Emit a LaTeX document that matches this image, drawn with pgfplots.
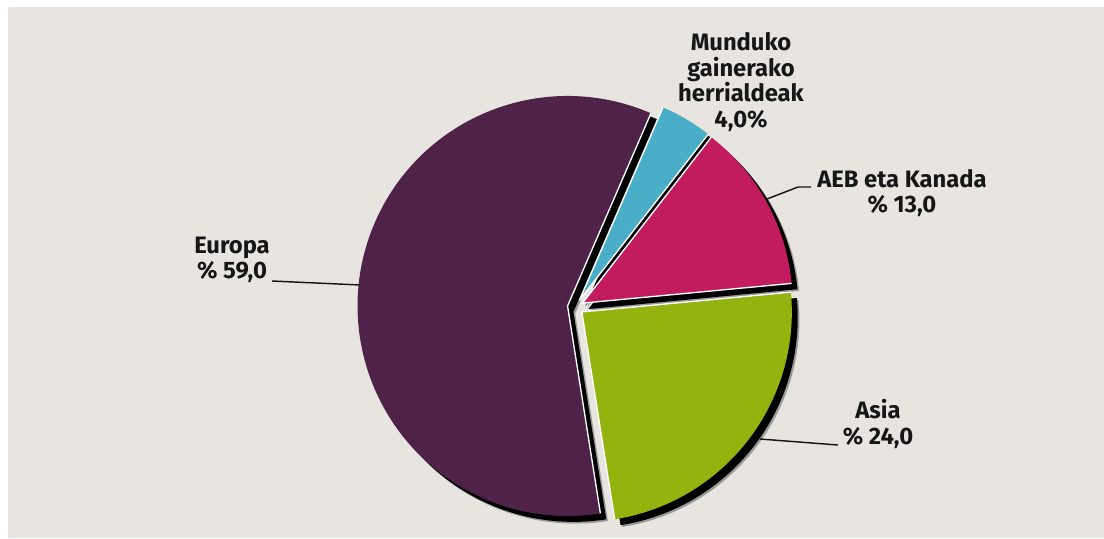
\documentclass[border=0pt]{standalone}
\usepackage{pgfplots}
\pgfplotsset{compat=1.18}
\usepackage{fontspec}
\setmainfont{Fira Sans}
\usetikzlibrary{calc}
\definecolor{bg}{RGB}{232,229,224}
\definecolor{europa}{RGB}{78,34,73}
\definecolor{asia}{RGB}{147,179,15}
\definecolor{aeb}{RGB}{194,28,94}
\definecolor{munduko}{RGB}{75,174,200}
\definecolor{ink}{RGB}{22,22,22}

% shares in percent
\def\vAsia{24}
\def\vAEB{13}
\def\vMund{4}
\def\vEur{59}

% pie geometry (centre in pixel units, radius/explode in cm)
\def\R{3.0435cm}
\def\D{0.116cm}

% #1 start angle, #2 end angle, #3 mid angle, #4 colour
\newcommand{\pieshadow}[3]{%
  \fill[black!40] ($(axis cs:575.5,307)+(#3:\D)+(0.11cm,-0.11cm)$) -- ++(#1:\R) arc[start angle=#1, end angle=#2, radius=\R] -- cycle;
  \fill[black] ($(axis cs:575.5,307)+(#3:\D)+(0.085cm,-0.085cm)$) -- ++(#1:\R) arc[start angle=#1, end angle=#2, radius=\R] -- cycle;
}
\newcommand{\pieslice}[4]{%
  \fill[#4] ($(axis cs:575.5,307)+(#3:\D)$) -- ++(#1:\R) arc[start angle=#1, end angle=#2, radius=\R] -- cycle;
  \draw[white, line width=0.55pt, line join=round] ($(axis cs:575.5,307)+(#3:\D)+(#1:\R)$) -- ($(axis cs:575.5,307)+(#3:\D)$) -- ++(#2:\R);
}

\begin{document}
\begin{tikzpicture}
\pgfmathsetmacro{\aA}{-81}
\pgfmathsetmacro{\aB}{\aA+3.6*\vAsia}
\pgfmathsetmacro{\aC}{\aB+3.6*\vAEB}
\pgfmathsetmacro{\aD}{\aC+3.6*\vMund}
\pgfmathsetmacro{\aE}{\aD+3.6*\vEur}
\pgfmathsetmacro{\mA}{(\aA+\aB)/2}
\pgfmathsetmacro{\mB}{(\aB+\aC)/2}
\pgfmathsetmacro{\mC}{(\aC+\aD)/2}
\pgfmathsetmacro{\mD}{(\aD+\aE)/2}
\begin{axis}[
  width=16cm, height=7.797cm, scale only axis,
  xmin=0, xmax=1104, ymin=0, ymax=538, y dir=reverse,
  axis lines=none, ticks=none, clip=false,
]
% background
\fill[white] (axis cs:0,0) rectangle (axis cs:1104,538);
\fill[bg] (axis cs:8,7) rectangle (axis cs:1104,538);
% shadows
\pieshadow{\aD}{\aE}{\mD}
\pieshadow{\aA}{\aB}{\mA}
\pieshadow{\aB}{\aC}{\mB}
\pieshadow{\aC}{\aD}{\mC}
% slices
\pieslice{\aD}{\aE}{\mD}{europa}
\pieslice{\aA}{\aB}{\mA}{asia}
\pieslice{\aB}{\aC}{\mB}{aeb}
\pieslice{\aC}{\aD}{\mC}{munduko}
% leader lines
\draw[ink, line width=0.6pt] (axis cs:272,281) -- (axis cs:360,285);
\draw[ink, line width=0.6pt] (axis cs:811,187) -- (axis cs:798,187) -- (axis cs:767,199);
\draw[ink, line width=0.6pt] (axis cs:760,439) -- (axis cs:838,445);
% labels
\tikzset{lbl/.style={text=ink, align=center, inner sep=0pt, font=\bfseries\fontsize{9.8}{10.6}\selectfont}}
\node[lbl] at (axis cs:741,82) {Munduko\\gainerako\\herrialdeak\\4,0\%};
\node[lbl] at (axis cs:902,193) {AEB eta Kanada\\\% 13,0};
\node[lbl] at (axis cs:232,260) {Europa\\\% 59,0};
\node[lbl] at (axis cs:878,424) {Asia\\\% 24,0};
\end{axis}
\end{tikzpicture}
\end{document}
